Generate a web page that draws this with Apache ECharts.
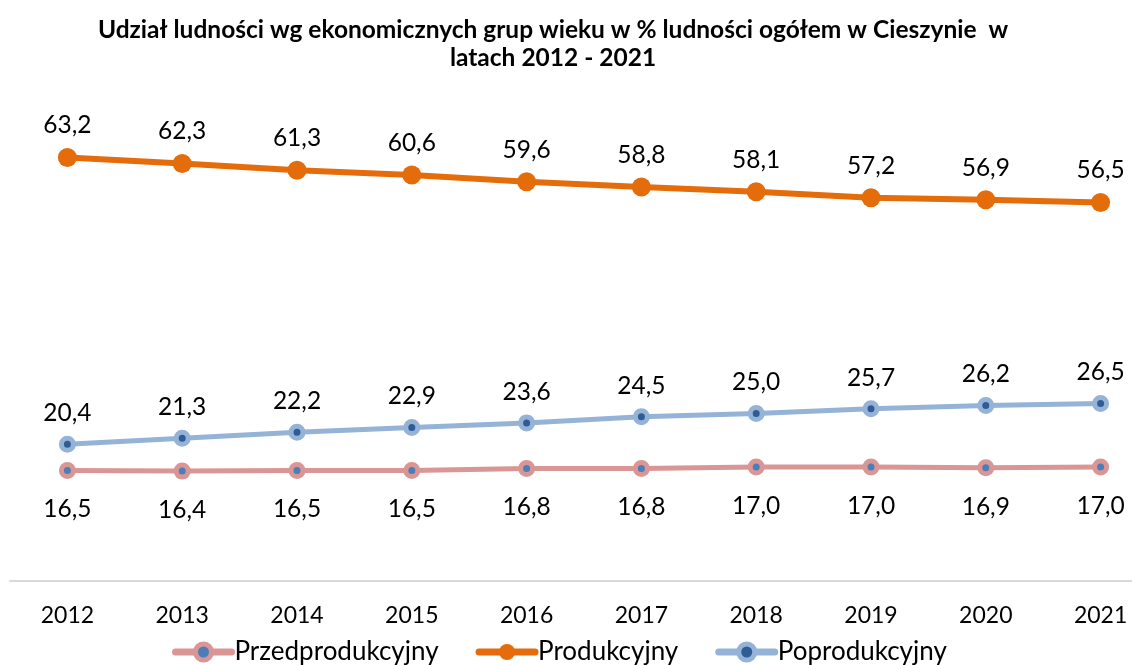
<!DOCTYPE html>
<html>
<head>
<meta charset="utf-8">
<script src="https://cdn.jsdelivr.net/npm/echarts@6/dist/echarts.min.js"></script>
<style>
html,body{margin:0;padding:0;background:#fff;}
#chart{width:1132px;height:665px;}
</style>
</head>
<body>
<div id="chart"></div>
<script>
const categories = ['2012','2013','2014','2015','2016','2017','2018','2019','2020','2021'];
const przedprodukcyjny = [16.5, 16.4, 16.5, 16.5, 16.8, 16.8, 17.0, 17.0, 16.9, 17.0];
const produkcyjny = [63.2, 62.3, 61.3, 60.6, 59.6, 58.8, 58.1, 57.2, 56.9, 56.5];
const poprodukcyjny = [20.4, 21.3, 22.2, 22.9, 23.6, 24.5, 25.0, 25.7, 26.2, 26.5];
const seriesNames = ['Przedprodukcyjny', 'Produkcyjny', 'Poprodukcyjny'];
const titleText = 'Udział ludności wg ekonomicznych grup wieku w % ludności ogółem w Cieszynie  w\nlatach 2012 - 2021';

const FONT = 'Lato';
const fmt = p => p.value.toFixed(1).replace('.', ',');

const chart = echarts.init(document.getElementById('chart'), null, {renderer: 'canvas'});
chart.setOption({
  animation: false,
  backgroundColor: '#ffffff',
  title: {
    text: titleText,
    left: 548,
    top: 11,
    textAlign: 'center',
    textStyle: {fontFamily: FONT, fontWeight: 'bold', fontSize: 24.5, lineHeight: 28, color: '#000'}
  },
  legend: {
    bottom: -5,
    left: 167,
    padding: 5,
    itemWidth: 56,
    itemHeight: 20,
    itemGap: 37,
    textStyle: {fontFamily: FONT, fontSize: 26, color: '#000', padding: [0, 0, 0, -2]},
    data: [
      {name: seriesNames[0], lineStyle: {width: 7, cap: 'round'}, itemStyle: {borderWidth: 5}},
      {name: seriesNames[1], lineStyle: {width: 7, cap: 'round'}},
      {name: seriesNames[2], lineStyle: {width: 7, cap: 'round'}, itemStyle: {borderWidth: 5}}
    ]
  },
  grid: {left: 10, width: 1148, top: 112, bottom: 84, outerBoundsMode: 'none', containLabel: false},
  xAxis: {
    type: 'category',
    data: categories,
    boundaryGap: true,
    axisLine: {show: true, lineStyle: {color: '#d9d9d9', width: 2}},
    axisTick: {show: false},
    axisLabel: {fontFamily: FONT, fontSize: 23, color: '#000', margin: 23},
    splitLine: {show: false}
  },
  yAxis: {
    type: 'value', min: 0, max: 70, interval: 10, show: false,
    splitLine: {show: false}
  },
  series: [
    {
      name: seriesNames[0], type: 'line', data: przedprodukcyjny,
      symbol: 'circle', symbolSize: 12,
      lineStyle: {color: '#d99694', width: 5},
      itemStyle: {color: '#4a7ebb', borderColor: '#d99694', borderWidth: 5},
      label: {show: true, position: 'bottom', distance: 18, formatter: fmt, fontFamily: FONT, fontSize: 24.5, color: '#000'},
      z: 3
    },
    {
      name: seriesNames[1], type: 'line', data: produkcyjny,
      symbol: 'circle', symbolSize: 19,
      lineStyle: {color: '#e46c0a', width: 6},
      itemStyle: {color: '#e46c0a', borderWidth: 0},
      label: {show: true, position: 'top', distance: 10, formatter: fmt, fontFamily: FONT, fontSize: 24.5, color: '#000'},
      z: 3
    },
    {
      name: seriesNames[2], type: 'line', data: poprodukcyjny,
      symbol: 'circle', symbolSize: 12,
      lineStyle: {color: '#95b3d7', width: 5},
      itemStyle: {color: '#2f5c94', borderColor: '#95b3d7', borderWidth: 5},
      label: {show: true, position: 'top', distance: 10, formatter: fmt, fontFamily: FONT, fontSize: 24.5, color: '#000'},
      z: 3
    }
  ]
});
</script>
</body>
</html>
